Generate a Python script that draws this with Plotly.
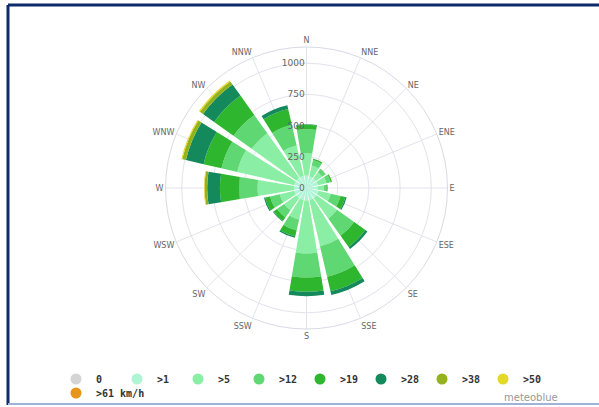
import plotly.graph_objects as go

directions = ["N", "NNE", "NE", "ENE", "E", "ESE", "SE", "SSE",
              "S", "SSW", "SW", "WSW", "W", "WNW", "NW", "NNW"]

bin_names = ["0", ">1", ">5", ">12", ">19", ">28", ">38", ">50", ">61 km/h"]
bin_colors = ["#d4d4d4", "#b0f4d6", "#8aeea4", "#5fd873", "#2eb72e",
              "#148a5c", "#93b21c", "#e4d82a", "#e8951c"]

# hours per direction for each speed bin (stacked)
v0 = [0, 0, 0, 0, 0, 0, 0, 0, 0, 0, 0, 0, 0, 0, 0, 0]
v1 = [100, 95, 95, 95, 90, 100, 100, 100, 100, 100, 100, 100, 100, 100, 100, 100]
v5 = [178, 90, 60, 70, 50, 100, 200, 380, 424, 160, 120, 120, 292, 470, 440, 250]
v12 = [193, 45, 30, 35, 20, 80, 170, 250, 193, 90, 70, 80, 149, 130, 180, 170]
v19 = [35, 10, 5, 10, 10, 40, 110, 120, 115, 50, 35, 40, 153, 147, 190, 130]
v28 = [5, 0, 0, 0, 0, 10, 20, 30, 35, 10, 5, 10, 102, 145, 110, 30]
v38 = [0, 0, 0, 0, 0, 0, 0, 0, 0, 0, 0, 0, 21, 30, 30, 0]
v50 = [0, 0, 0, 0, 0, 0, 0, 0, 0, 0, 0, 0, 5, 8, 10, 0]
v61 = [0, 0, 0, 0, 0, 0, 0, 0, 0, 0, 0, 0, 0, 0, 0, 0]
series = [v0, v1, v5, v12, v19, v28, v38, v50, v61]

radial_ticks = [0, 250, 500, 750, 1000]

W, H = 599, 407
fig = go.Figure()

for name, col, vals in zip(bin_names, bin_colors, series):
    fig.add_trace(go.Barpolar(
        r=vals, theta=directions, name=name,
        marker=dict(color=col, line=dict(width=0)),
        showlegend=False, hoverinfo="skip"))

for i, (name, col) in enumerate(zip(bin_names, bin_colors)):
    fig.add_trace(go.Scatterpolar(
        r=[None], theta=[None], name=name, mode="markers",
        marker=dict(color=col, size=11, symbol="circle"),
        showlegend=True, legend="legend" if i < 8 else "legend2"))

cx, cy, rad = 306.5, 188, 141
legend_font = dict(size=10, color="#333333", family="DejaVu Sans Mono", weight="bold")
fig.update_layout(
    width=W, height=H,
    margin=dict(l=0, r=0, t=0, b=0, autoexpand=False),
    paper_bgcolor="white",
    font=dict(family="DejaVu Sans", color="#666666"),
    polar=dict(
        domain=dict(x=[(cx - rad) / W, (cx + rad) / W],
                    y=[1 - (cy + rad) / H, 1 - (cy - rad) / H]),
        bgcolor="white",
        barmode="stack",
        bargap=0.16,
        angularaxis=dict(
            direction="clockwise", rotation=90,
            categoryorder="array", categoryarray=directions,
            showline=True, linecolor="#d8dae6", linewidth=1,
            gridcolor="#e2e3ec", gridwidth=1,
            ticks="", tickfont=dict(size=8, color="#666666")),
        radialaxis=dict(
            range=[0, 1130], angle=90, tickangle=90, side="counterclockwise",
            tickvals=radial_ticks, ticktext=[str(t) for t in radial_ticks],
            showline=False, ticks="",
            gridcolor="#e2e3ec", gridwidth=1,
            tickfont=dict(size=9, color="#666666")),
    ),
    legend=dict(
        orientation="h", x=56 / W, xanchor="left", y=1 - 379 / H, yanchor="middle",
        font=legend_font, entrywidth=16, tracegroupgap=0,
        bgcolor="rgba(0,0,0,0)"),
    legend2=dict(
        orientation="h", x=56 / W, xanchor="left", y=1 - 393 / H, yanchor="middle",
        font=legend_font, tracegroupgap=0,
        bgcolor="rgba(0,0,0,0)"),
    annotations=[dict(text="meteoblue", x=560 / W, y=1 - 397 / H,
                      xref="paper", yref="paper", xanchor="right", yanchor="middle",
                      showarrow=False, font=dict(size=10, color="#999999"))],
    shapes=[
        dict(type="line", xref="paper", yref="paper", x0=8 / W, x1=8 / W, y0=1 - 405 / H, y1=1 - 5 / H,
             line=dict(color="#0d2a6b", width=3)),
        dict(type="line", xref="paper", yref="paper", x0=8 / W, x1=1, y0=1 - 5 / H, y1=1 - 5 / H,
             line=dict(color="#0d2a6b", width=3)),
        dict(type="line", xref="paper", yref="paper", x0=8 / W, x1=1, y0=1 - 404 / H, y1=1 - 404 / H,
             line=dict(color="#9fb2d8", width=2)),
    ],
)

fig.write_html("out.html", config={"displayModeBar": False},
               post_script="document.body.style.margin='0';")
